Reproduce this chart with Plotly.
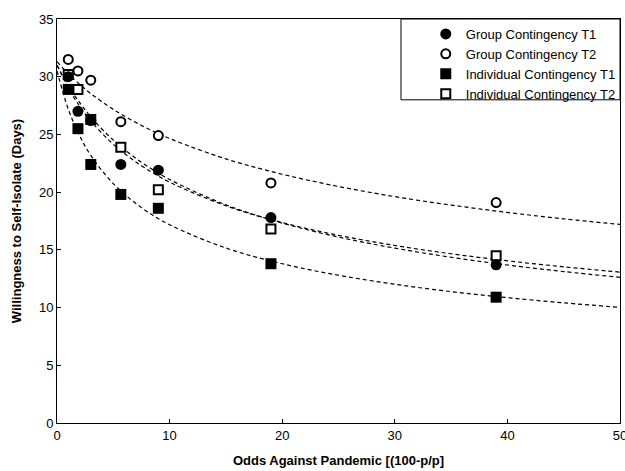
import plotly.graph_objects as go

# Observed points: odds against pandemic
odds = [1, 1.86, 3, 5.67, 9, 19, 39]
group_t1 = [30.0, 27.0, 26.2, 22.4, 21.9, 17.8, 13.7]
group_t2 = [31.5, 30.5, 29.7, 26.1, 24.9, 20.8, 19.1]
indiv_t1 = [28.9, 25.5, 22.4, 19.8, 18.6, 13.8, 10.9]
indiv_t2 = [30.2, 28.9, 26.3, 23.9, 20.2, 16.8, 14.5]

# Fitted (dashed) curves
curve_x = [0, 1, 2, 3, 5, 7.5, 10, 15, 20, 25, 30, 35, 40, 45, 50]
curve_group_t2 = [31.3, 30.26, 29.35, 28.54, 27.17, 25.78, 24.65, 22.88, 21.55, 20.49, 19.61, 18.88, 18.24, 17.69, 17.20]
curve_indiv_t1 = [30.5, 27.2, 24.91, 23.19, 20.74, 18.66, 17.18, 15.16, 13.8, 12.8, 12.02, 11.38, 10.86, 10.41, 10.02]
curve_indiv_t2 = [31.0, 29.03, 27.46, 26.17, 24.15, 22.29, 20.87, 18.82, 17.36, 16.26, 15.38, 14.66, 14.05, 13.53, 13.07]
curve_group_t1 = [31.0, 29.23, 27.77, 26.52, 24.51, 22.59, 21.10, 18.9, 17.32, 16.11, 15.15, 14.36, 13.69, 13.12, 12.62]

x_ticks = [0, 10, 20, 30, 40, 50]
y_ticks = [0, 5, 10, 15, 20, 25, 30, 35]

FONT = "Liberation Sans, Arial, sans-serif"
fig = go.Figure()

for cy in [curve_group_t2, curve_indiv_t2, curve_group_t1, curve_indiv_t1]:
    fig.add_trace(go.Scatter(x=curve_x, y=cy, mode="lines", showlegend=False,
                             line=dict(color="black", width=1.2, dash="4px,3px", shape="spline", smoothing=1),
                             hoverinfo="skip"))

def pts(name, y, symbol, filled, rank):
    if filled:
        marker = dict(symbol=symbol, size=11, color="black", line=dict(width=0))
    else:
        marker = dict(symbol=symbol, size=9, color="white", line=dict(width=2, color="black"))
    return go.Scatter(x=odds, y=y, mode="markers", name=name, marker=marker, legendrank=rank)

fig.add_trace(pts("Individual Contingency T2", indiv_t2, "square", False, 4))
fig.add_trace(pts("Individual Contingency T1", indiv_t1, "square", True, 3))
fig.add_trace(pts("Group Contingency T2", group_t2, "circle", False, 2))
fig.add_trace(pts("Group Contingency T1", group_t1, "circle", True, 1))

fig.update_layout(
    width=625, height=471,
    margin=dict(l=57, r=5, t=19, b=48, autoexpand=False),
    plot_bgcolor="white", paper_bgcolor="white",
    font=dict(family=FONT, size=13, color="black"),
    showlegend=True,
    legend=dict(x=0.655, xanchor="left", y=1.0, yanchor="top",
                bgcolor="rgba(0,0,0,0)", borderwidth=0,
                font=dict(family=FONT, size=13, color="black"),
                itemwidth=30, traceorder="normal"),
    shapes=[dict(type="rect", xref="paper", yref="paper", x0=0.611, x1=1.0, y0=0.8, y1=1.0,
                 line=dict(color="black", width=1), fillcolor="rgba(0,0,0,0)", layer="above")],
)
fig.update_xaxes(range=[0, 50], tickvals=x_ticks, ticks="inside", ticklen=4, tickcolor="black",
                 showline=True, linecolor="black", linewidth=1, mirror=True, showgrid=False, zeroline=False,
                 tickfont=dict(size=13, family=FONT), ticklabeloverflow="allow", automargin=False,
                 title=dict(text="<b>Odds Against Pandemic [(100-p/p]</b>", font=dict(size=13, family=FONT), standoff=14))
fig.update_yaxes(range=[0, 35], tickvals=y_ticks, ticks="inside", ticklen=4, tickcolor="black",
                 showline=True, linecolor="black", linewidth=1, mirror=True, showgrid=False, zeroline=False,
                 tickfont=dict(size=13, family=FONT), automargin=False,
                 title=dict(text="<b>Willingness to Self-Isolate (Days)</b>", font=dict(size=13, family=FONT), standoff=14))

fig.write_html("out.html", config={"displayModeBar": False},
               post_script="document.documentElement.style.overflow='hidden';document.body.style.margin='0';document.body.style.overflow='hidden';")
